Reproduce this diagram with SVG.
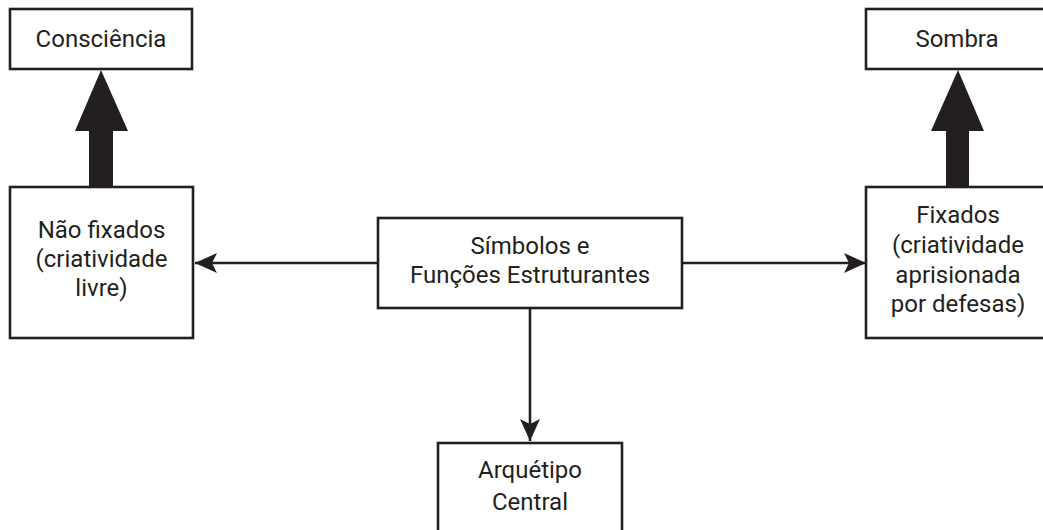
<svg xmlns="http://www.w3.org/2000/svg" width="1043" height="530" viewBox="0 0 1043 530">
<style>
.box{fill:#fff;stroke:#231f20;stroke-width:2.6}
.t{font-family:Roboto,"Open Sans","Liberation Sans",sans-serif;font-size:24px;fill:#231f20;text-anchor:middle}
.ln{stroke:#231f20;stroke-width:2.6;fill:none}
.big{fill:#231f20}
</style>
<defs>
<marker id="ah" markerUnits="userSpaceOnUse" markerWidth="24" markerHeight="24" viewBox="0 0 24 24" refX="22" refY="12" orient="auto">
<path d="M0,2 L22,12 L0,22 L5,12 Z" fill="#231f20"/>
</marker>
</defs>
<rect width="1043" height="530" fill="#fff"/>
<g id="connectors">
<polygon class="big" points="89,187 89,131 75,131 101,70 128,131 113,131 113,187"/>
<polygon class="big" points="946,187 946,131 931,131 958,70 984,131 969,131 969,187"/>
<line class="ln" x1="378" y1="263" x2="195" y2="263" marker-end="url(#ah)"/>
<line class="ln" x1="682" y1="263" x2="866" y2="263" marker-end="url(#ah)"/>
<line class="ln" x1="530" y1="308" x2="530" y2="441" marker-end="url(#ah)"/>
</g>
<g id="consciencia">
<rect class="box" x="10" y="9" width="182" height="60"/>
<text class="t" x="101" y="47">Consciência</text>
</g>
<g id="sombra">
<rect class="box" x="866" y="9" width="184" height="60"/>
<text class="t" x="957" y="47">Sombra</text>
</g>
<g id="nao-fixados">
<rect class="box" x="10" y="187" width="183" height="151"/>
<text class="t" x="101.5" y="238">Não fixados</text>
<text class="t" x="101.5" y="267">(criatividade</text>
<text class="t" x="101.5" y="296">livre)</text>
</g>
<g id="simbolos">
<rect class="box" x="378" y="218" width="304" height="90"/>
<text class="t" x="530" y="254">Símbolos e</text>
<text class="t" x="530" y="283">Funções Estruturantes</text>
</g>
<g id="fixados">
<rect class="box" x="866" y="187" width="184" height="151"/>
<text class="t" x="958" y="223">Fixados</text>
<text class="t" x="958" y="253">(criatividade</text>
<text class="t" x="958" y="283">aprisionada</text>
<text class="t" x="958" y="312">por defesas)</text>
</g>
<g id="arquetipo">
<rect class="box" x="438" y="443" width="184" height="100"/>
<text class="t" x="530" y="478">Arquétipo</text>
<text class="t" x="530" y="510">Central</text>
</g>
</svg>
